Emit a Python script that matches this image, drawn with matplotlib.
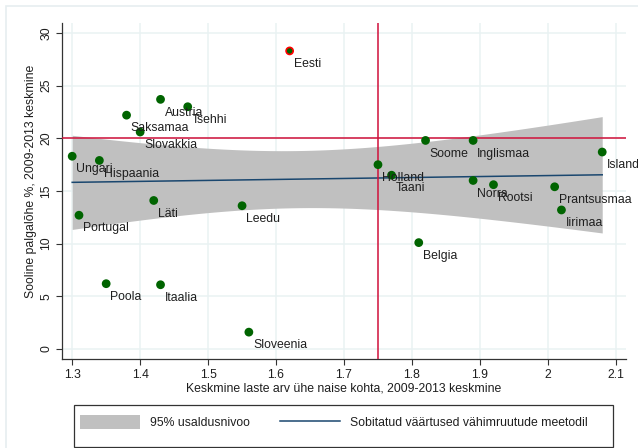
import numpy as np
import matplotlib
matplotlib.use("Agg")
import matplotlib.pyplot as plt
from matplotlib.patches import Patch, Rectangle
from matplotlib.lines import Line2D

plt.rcParams['font.family'] = ['Liberation Sans', 'DejaVu Sans']

countries = ["Eesti", "Austria", "Tsehhi", "Saksamaa", "Slovakkia", "Ungari",
             "Hispaania", "Läti", "Portugal", "Leedu", "Poola", "Itaalia",
             "Sloveenia", "Soome", "Inglismaa", "Holland", "Taani", "Norra",
             "Rootsi", "Prantsusmaa", "Iirimaa", "Island", "Belgia"]
fertility = [1.62, 1.43, 1.47, 1.38, 1.40, 1.30,
             1.34, 1.42, 1.31, 1.55, 1.35, 1.43,
             1.56, 1.82, 1.89, 1.75, 1.77, 1.89,
             1.92, 2.01, 2.02, 2.08, 1.81]
paygap = [28.3, 23.7, 23.0, 22.2, 20.6, 18.3,
          17.9, 14.1, 12.7, 13.6, 6.2, 6.1,
          1.6, 19.8, 19.8, 17.5, 16.5, 16.0,
          15.6, 15.4, 13.2, 18.7, 10.1]

ref_x = 1.75
ref_y = 20
xticks = [1.3, 1.4, 1.5, 1.6, 1.7, 1.8, 1.9, 2.0, 2.1]
xticklabels = ["1.3", "1.4", "1.5", "1.6", "1.7", "1.8", "1.9", "2", "2.1"]
yticks = [0, 5, 10, 15, 20, 25, 30]

xlabel = "Keskmine laste arv ühe naise kohta, 2009-2013 keskmine"
ylabel = "Sooline palgalõhe %, 2009-2013 keskmine"
legend_labels = ["95% usaldusnivoo", "Sobitatud väärtused vähimruutude meetodil"]

FS = 8.8

x = np.array(fertility)
y = np.array(paygap)
n = len(x)
b, a = np.polyfit(x, y, 1)
resid = y - (a + b * x)
s = np.sqrt(np.sum(resid ** 2) / (n - 2))
xbar = x.mean()
sxx = np.sum((x - xbar) ** 2)
t_crit = 2.069
xs = np.linspace(x.min(), x.max(), 100)
ys = a + b * xs
se = s * np.sqrt(1.0 / n + (xs - xbar) ** 2 / sxx)
lo = ys - t_crit * se
hi = ys + t_crit * se

W, H = 638, 448
fig = plt.figure(figsize=(W / 100, H / 100), dpi=100)
fig.patch.set_facecolor("white")
fig.add_artist(Rectangle((6 / W, -0.01), 1.0, 1 - 6 / H + 0.01,
                         transform=fig.transFigure, fill=False,
                         edgecolor="#E6EEF0", linewidth=1.2))
ax = fig.add_axes([62 / W, 1 - 359 / H, (626 - 62) / W, (359 - 23) / H])

grid_c = "#EAF2F3"
for gx in xticks:
    ax.axvline(gx, color=grid_c, lw=1.1, zorder=0)
for gy in yticks:
    ax.axhline(gy, color=grid_c, lw=1.1, zorder=0)

ax.fill_between(xs, lo, hi, color="#C0C0C0", lw=0, zorder=1)
ax.plot(xs, ys, color="#1A476F", lw=1.1, zorder=2)
ax.axhline(ref_y, color="#D0103A", lw=1.1, zorder=3)
ax.axvline(ref_x, color="#D0103A", lw=1.1, zorder=3)

colors = ["#006400"] * n
edges = ["#FF0000" if c == "Eesti" else "#006400" for c in countries]
ax.scatter(x, y, s=26, c=colors, edgecolors=edges, linewidths=1.2, zorder=4)
for cx, cy, name in zip(fertility, paygap, countries):
    ax.annotate(name, (cx, cy), xytext=(3, -9.5), textcoords="offset points",
                ha="left", va="center", fontsize=FS, color="#1E1E1E", zorder=5)

ax.set_xlim(1.285, 2.115)
ax.set_ylim(-0.95, 30.95)
ax.set_xticks(xticks)
ax.set_xticklabels(xticklabels)
ax.set_yticks(yticks)
ax.set_yticklabels([str(v) for v in yticks], rotation=90, va="center")
ax.tick_params(axis="both", labelsize=FS, length=4, width=0.8, color="#333333",
               labelcolor="#1E1E1E", pad=3)
for sp in ["top", "right"]:
    ax.spines[sp].set_visible(False)
for sp in ["left", "bottom"]:
    ax.spines[sp].set_color("#333333")
    ax.spines[sp].set_linewidth(0.9)
ax.set_xlabel(xlabel, fontsize=FS, color="#1E1E1E", labelpad=1)
ax.set_ylabel(ylabel, fontsize=FS, color="#1E1E1E")
ax.yaxis.set_label_coords(-0.045, 0.53)

# legend box
fig.add_artist(Rectangle((74 / W, 1 - 447 / H), (613 - 74) / W, (447 - 405) / H,
                         transform=fig.transFigure, fill=False,
                         edgecolor="#333333", linewidth=0.9))
handles = [Patch(facecolor="#C0C0C0", edgecolor="none"),
           Line2D([0], [0], color="#1A476F", lw=1.1)]
em = FS * 100 / 72
leg = fig.legend(handles, legend_labels, ncol=2, loc="center left",
                 bbox_to_anchor=(80 / W, 1 - 422 / H),
                 frameon=False, fontsize=FS,
                 handlelength=60 / em, handleheight=17 / em,
                 handletextpad=10 / em, columnspacing=30 / em,
                 borderaxespad=0, borderpad=0)
for t in leg.get_texts():
    t.set_color("#1E1E1E")

fig.savefig("out.png", dpi=100)
